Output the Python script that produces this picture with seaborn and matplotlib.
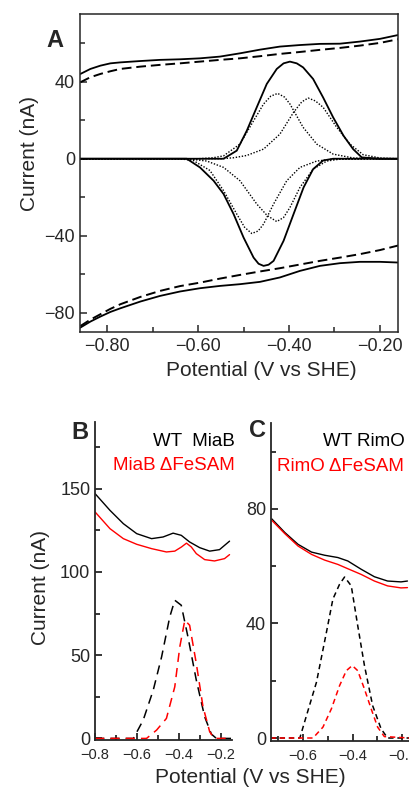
import numpy as np
import pandas as pd
import seaborn as sns
import matplotlib.pyplot as plt
from matplotlib.ticker import MultipleLocator, FixedLocator

# ---------- panel A: raw CV and baseline-subtracted peaks ----------
a_x = [-0.859, -0.837, -0.815, -0.793, -0.771, -0.727, -0.684, -0.640, -0.596, -0.552,
       -0.508, -0.464, -0.420, -0.376, -0.332, -0.288, -0.244, -0.200, -0.156]
a_ox_solid = [44.0, 46.6, 48.3, 49.5, 50.0, 50.7, 51.3, 51.6, 52.1, 53.0,
              54.7, 56.6, 58.2, 59.0, 59.6, 59.7, 60.8, 62.2, 64.4]
a_ox_dash = [39.7, 42.3, 44.0, 45.4, 46.6, 47.8, 48.7, 49.5, 50.4, 51.3,
             52.1, 53.2, 54.4, 55.4, 56.5, 57.5, 58.7, 60.1, 62.2]
a_red_solid = [-87.6, -84.5, -81.9, -79.5, -77.6, -74.1, -71.2, -68.9, -67.2, -66.0,
               -65.1, -63.9, -61.6, -58.2, -55.6, -54.2, -53.5, -53.5, -53.9]
a_red_dash = [-86.8, -83.5, -80.7, -77.9, -75.5, -71.7, -68.6, -66.1, -64.3, -62.2,
              -60.3, -58.5, -56.8, -54.9, -53.0, -51.3, -49.5, -47.4, -44.8]

ox_sum_x = [-0.86, -0.60, -0.544, -0.515, -0.493, -0.471, -0.449, -0.427, -0.412, -0.398,
            -0.383, -0.369, -0.347, -0.325, -0.303, -0.280, -0.259, -0.240, -0.20, -0.16]
ox_sum_y = [0, 0, 0, 4.2, 14.5, 26.7, 38.8, 46.6, 49.5, 50.4,
            49.5, 47.4, 41.4, 31.8, 21.5, 11.9, 5.0, 0.7, 0, 0]
ox_p1_x = [-0.86, -0.60, -0.567, -0.544, -0.508, -0.478, -0.456, -0.440, -0.425, -0.410,
           -0.398, -0.369, -0.339, -0.303, -0.259, -0.20, -0.16]
ox_p1_y = [0, 0, 0.5, 1.5, 7.6, 19.7, 28.4, 32.5, 33.9, 32.0,
           28.4, 16.3, 7.6, 2.4, 0.4, 0, 0]
ox_p2_x = [-0.86, -0.55, -0.522, -0.493, -0.456, -0.420, -0.390, -0.372, -0.358, -0.342,
           -0.325, -0.295, -0.266, -0.237, -0.200, -0.16]
ox_p2_y = [0, 0, 0.5, 1.7, 5.0, 12.8, 24.1, 29.5, 31.5, 30.0,
           26.7, 16.3, 7.6, 2.1, 0.4, 0]

red_sum_x = [-0.86, -0.625, -0.596, -0.566, -0.544, -0.522, -0.500, -0.478, -0.467, -0.456,
             -0.445, -0.434, -0.412, -0.390, -0.368, -0.347, -0.325, -0.303, -0.16]
red_sum_y = [0, 0, -4.5, -11.4, -18.3, -28.7, -40.9, -51.3, -54.5, -55.6,
             -55.0, -53.0, -42.6, -28.7, -14.9, -5.4, -0.9, 0, 0]
red_p1_x = [-0.86, -0.64, -0.610, -0.574, -0.544, -0.515, -0.498, -0.482, -0.468, -0.456,
            -0.434, -0.405, -0.376, -0.339, -0.303, -0.16]
red_p1_y = [0, 0, -1.0, -6.1, -16.6, -28.7, -35.5, -38.8, -37.5, -33.9,
            -23.5, -11.4, -4.5, -1.2, -0.2, 0]
red_p2_x = [-0.86, -0.617, -0.581, -0.544, -0.508, -0.471, -0.448, -0.427, -0.412, -0.398,
            -0.376, -0.347, -0.317, -0.288, -0.16]
red_p2_y = [0, -0.2, -1.2, -4.5, -11.4, -23.5, -29.5, -32.6, -30.5, -25.3,
            -14.9, -5.4, -1.2, -0.2, 0]

# ---------- panel B: MiaB ----------
b_wt_x = [-0.800, -0.729, -0.665, -0.601, -0.530, -0.475, -0.427, -0.388, -0.348, -0.300,
          -0.252, -0.205, -0.157]
b_wt_y = [147, 137, 129, 123, 120, 121, 123.3, 122, 118, 114.6, 112.5, 113.4, 118.5]
b_mut_x = [-0.800, -0.729, -0.665, -0.601, -0.530, -0.459, -0.419, -0.387, -0.363, -0.340,
           -0.316, -0.276, -0.229, -0.181, -0.157]
b_mut_y = [136, 126, 120, 116.6, 114, 112, 112.5, 115, 117.3, 115,
           111, 107.4, 106.6, 108, 110.4]
b_wt_peak_x = [-0.80, -0.617, -0.570, -0.522, -0.482, -0.443, -0.419, -0.388, -0.356, -0.316,
               -0.276, -0.244, -0.220, -0.15]
b_wt_peak_y = [0, 0, 11, 29, 49, 73, 83, 80, 61, 35, 13, 2.6, 0, 0]
b_mut_peak_x = [-0.80, -0.554, -0.506, -0.459, -0.419, -0.395, -0.371, -0.348, -0.316, -0.284,
                -0.252, -0.230, -0.15]
b_mut_peak_y = [0, 0, 5, 12, 31, 55, 71, 68, 45, 19, 4, 0, 0]

# ---------- panel C: RimO ----------
c_x = [-0.725, -0.672, -0.619, -0.565, -0.512, -0.459, -0.419, -0.365, -0.312, -0.259,
       -0.205, -0.179]
c_wt_y = [76.5, 71.7, 67.6, 64.9, 63.8, 63.0, 61.8, 58.9, 56.3, 54.8, 54.5, 54.8]
c_mut_y = [76.0, 71.3, 67.0, 64.1, 62.1, 60.6, 59.1, 57.1, 54.8, 53.1, 52.4, 52.5]
c_wt_peak_x = [-0.73, -0.612, -0.585, -0.545, -0.505, -0.479, -0.452, -0.432, -0.405, -0.379,
               -0.352, -0.319, -0.285, -0.259, -0.17]
c_wt_peak_y = [0, 0, 7.9, 19.5, 36.9, 48.5, 53.7, 56.2, 53.1, 39.2, 25.3, 11.3, 3.2, 0, 0]
c_mut_peak_x = [-0.73, -0.559, -0.519, -0.485, -0.452, -0.425, -0.401, -0.379, -0.352, -0.325,
                -0.299, -0.272, -0.17]
c_mut_peak_y = [0, 0, 3.8, 10.2, 18.3, 23.5, 25.3, 23.5, 17.1, 10.2, 3.8, 0.5, 0]

sns.set_style("ticks")
plt.rcParams['font.family'] = ['Liberation Sans', 'DejaVu Sans']
plt.rcParams['axes.unicode_minus'] = True

RED = '#ff0000'


def draw(ax, x, y, color='k', lw=1.2, dashes=None):
    sns.lineplot(x=x, y=y, ax=ax, color=color, linewidth=lw, estimator=None, sort=False)
    line = ax.lines[-1]
    if dashes is not None:
        line.set_dashes(dashes)
    return line


def style_ticks(ax, xsize, ysize, spine_w, xpad=4):
    ax.tick_params(which='both', direction='in', top=False, right=False, width=spine_w)
    ax.tick_params(which='major', length=5)
    ax.tick_params(which='minor', length=3.5)
    ax.tick_params(axis='x', labelsize=xsize, pad=xpad)
    ax.tick_params(axis='y', labelsize=ysize, pad=3.5)
    for s in ax.spines.values():
        s.set_linewidth(spine_w)


fig = plt.figure(figsize=(4.10, 7.89), dpi=100)

# panel A
axA = fig.add_axes([0.195, 0.579, 0.776, 0.403])
draw(axA, a_x, a_ox_solid, lw=1.3)
draw(axA, a_x, a_ox_dash, lw=1.4, dashes=(5, 2.5))
draw(axA, a_x, a_red_solid, lw=1.3)
draw(axA, a_x, a_red_dash, lw=1.4, dashes=(5, 2.5))
draw(axA, ox_p1_x, ox_p1_y, lw=1.0, dashes=(1, 1.2))
draw(axA, ox_p2_x, ox_p2_y, lw=1.0, dashes=(1, 1.2))
draw(axA, red_p1_x, red_p1_y, lw=1.0, dashes=(1, 1.2))
draw(axA, red_p2_x, red_p2_y, lw=1.0, dashes=(1, 1.2))
draw(axA, ox_sum_x, ox_sum_y, lw=1.3)
draw(axA, red_sum_x, red_sum_y, lw=1.3)
axA.set_xlim(-0.86, -0.16)
axA.set_ylim(-90, 75)
axA.xaxis.set_major_locator(FixedLocator([-0.8, -0.6, -0.4, -0.2]))
axA.xaxis.set_minor_locator(FixedLocator([-0.7, -0.5, -0.3]))
axA.set_xticklabels(['\u22120.80', '\u22120.60', '\u22120.40', '\u22120.20'])
axA.yaxis.set_major_locator(FixedLocator([-80, -40, 0, 40]))
axA.yaxis.set_minor_locator(FixedLocator([-60, -20, 20, 60]))
axA.set_yticklabels(['\u221280', '\u221240', '0', '40'])
axA.set_xlabel('')
axA.set_ylabel('')
style_ticks(axA, 13, 13, 1.1)

# panel B
axB = fig.add_axes([0.232, 0.062, 0.334, 0.403])
draw(axB, b_wt_x, b_wt_y, lw=1.0)
draw(axB, b_mut_x, b_mut_y, color=RED, lw=1.0)
draw(axB, b_wt_peak_x, b_wt_peak_y, lw=1.1, dashes=(6, 4))
draw(axB, b_mut_peak_x, b_mut_peak_y, color=RED, lw=1.1, dashes=(6, 4))
axB.set_xlim(-0.8, -0.145)
axB.set_ylim(-1, 190)
axB.xaxis.set_major_locator(FixedLocator([-0.8, -0.6, -0.4, -0.2]))
axB.xaxis.set_minor_locator(FixedLocator([-0.7, -0.5, -0.3]))
axB.set_xticklabels(['\u22120.8', '\u22120.6', '\u22120.4', '\u22120.2'])
axB.yaxis.set_major_locator(FixedLocator([0, 50, 100, 150]))
axB.yaxis.set_minor_locator(FixedLocator([25, 75, 125, 175]))
axB.set_xlabel('')
axB.set_ylabel('')
sns.despine(ax=axB)
style_ticks(axB, 10.5, 13, 1.3, xpad=5.5)
axB.text(1.02, 0.938, 'WT  MiaB', transform=axB.transAxes, ha='right', va='center',
         fontsize=13.5, color='k')
axB.text(1.02, 0.865, 'MiaB \u0394FeSAM', transform=axB.transAxes, ha='right', va='center',
         fontsize=13.5, color=RED)

# panel C
axC = fig.add_axes([0.661, 0.061, 0.337, 0.403])
draw(axC, c_x, c_wt_y, lw=1.0)
draw(axC, c_x, c_mut_y, color=RED, lw=1.0)
draw(axC, c_wt_peak_x, c_wt_peak_y, lw=1.1, dashes=(3.5, 2.5))
draw(axC, c_mut_peak_x, c_mut_peak_y, color=RED, lw=1.1, dashes=(3.5, 2.5))
axC.set_xlim(-0.728, -0.172)
axC.set_ylim(-1, 110)
axC.xaxis.set_major_locator(FixedLocator([-0.6, -0.4, -0.2]))
axC.xaxis.set_minor_locator(FixedLocator([-0.7, -0.5, -0.3]))
axC.set_xticklabels(['\u22120.6', '\u22120.4', '\u22120.2'])
axC.yaxis.set_major_locator(FixedLocator([0, 40, 80]))
axC.yaxis.set_minor_locator(FixedLocator([20, 60, 100]))
axC.set_xlabel('')
axC.set_ylabel('')
sns.despine(ax=axC)
style_ticks(axC, 10.5, 13, 1.3, xpad=5.5)
axC.text(0.965, 0.941, 'WT RimO', transform=axC.transAxes, ha='right', va='center',
         fontsize=13.5, color='k')
axC.text(0.965, 0.862, 'RimO \u0394FeSAM', transform=axC.transAxes, ha='right', va='center',
         fontsize=13.5, color=RED)

# labels
fig.text(0.134, 0.949, 'A', fontsize=17, fontweight='bold', ha='center', va='center')
fig.text(0.195, 0.452, 'B', fontsize=17, fontweight='bold', ha='center', va='center')
fig.text(0.629, 0.455, 'C', fontsize=17, fontweight='bold', ha='center', va='center')
fig.text(0.073, 0.805, 'Current (nA)', rotation=90, fontsize=15, ha='center', va='center')
fig.text(0.637, 0.530, 'Potential (V vs SHE)', fontsize=15, ha='center', va='center')
fig.text(0.098, 0.256, 'Current (nA)', rotation=90, fontsize=15, ha='center', va='center')
fig.text(0.610, 0.015, 'Potential (V vs SHE)', fontsize=15, ha='center', va='center')

fig.savefig('out.png', dpi=100)
